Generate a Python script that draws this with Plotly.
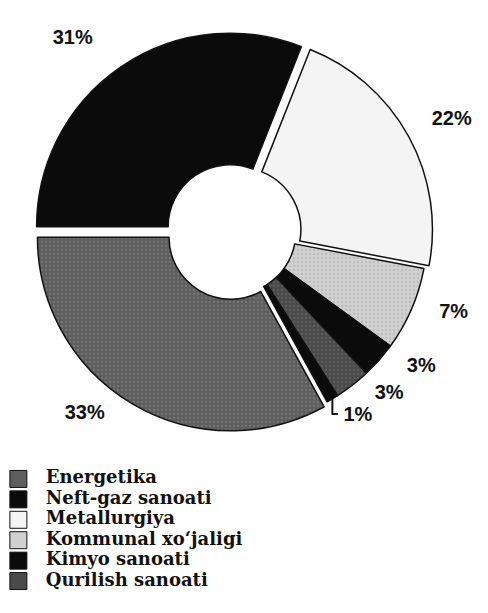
import plotly.graph_objects as go

# Data (clockwise from 9 o'clock)
slice_labels = ["Neft-gaz sanoati", "Metallurgiya", "Kommunal xo‘jaligi",
                "Kimyo sanoati", "Qurilish sanoati", "Boshqa", "Energetika"]
slice_values = [31, 22, 7, 3, 3, 1, 33]

legend_labels = ["Energetika", "Neft-gaz sanoati", "Metallurgiya",
                 "Kommunal xo‘jaligi", "Kimyo sanoati", "Qurilish sanoati"]

# Styles
color_map = {
    "Neft-gaz sanoati": "#0b0b0b",
    "Metallurgiya": "#f4f4f4",
    "Kommunal xo‘jaligi": "#d0d0d0",
    "Kimyo sanoati": "#0b0b0b",
    "Qurilish sanoati": "#4a4a4a",
    "Boshqa": "#0b0b0b",
    "Energetika": "#5e5e5e",
}
pattern_fg = {
    "Energetika": "#8c8c8c",
    "Kommunal xo‘jaligi": "#a8a8a8",
    "Qurilish sanoati": "#707070",
}
pull_map = {
    "Neft-gaz sanoati": 0.035,
    "Metallurgiya": 0.03,
    "Energetika": 0.03,
}
# outside-label padding: (nbsp before, nbsp after, empty lines below)
label_pad = {
    "Neft-gaz sanoati": (0, 3, 1),
    "Metallurgiya": (2, 0, 1),
    "Kommunal xo‘jaligi": (4, 0, 0),
    "Kimyo sanoati": (4, 0, 0),
    "Qurilish sanoati": (3, 0, 0),
    "Boshqa": (1, 0, 0),
    "Energetika": (0, 4, 0),
}
NB = "\u00a0"


def label_template(lab):
    pre, post, below = label_pad.get(lab, (0, 0, 0))
    return NB * pre + "%{value}%" + NB * post + ("<br>" + NB) * below


fig = go.Figure()

fig.add_trace(go.Pie(
    labels=slice_labels,
    values=slice_values,
    sort=False,
    direction="clockwise",
    rotation=270,
    hole=0.32,
    pull=[pull_map.get(l, 0) for l in slice_labels],
    marker=dict(
        colors=[color_map[l] for l in slice_labels],
        line=dict(color="#111111", width=1.5),
        pattern=dict(
            shape=["." if l in pattern_fg else "" for l in slice_labels],
            fgcolor=[pattern_fg.get(l, "#000000") for l in slice_labels],
            size=4, solidity=0.25, fillmode="overlay",
        ),
    ),
    texttemplate=[label_template(l) for l in slice_labels],
    textposition="outside",
    textfont=dict(family="Liberation Sans", size=20, color="#111111", weight="bold"),
    showlegend=False,
    hoverinfo="label+value",
    domain=dict(x=[0.05, 0.93], y=[0.32, 1.0]),
))

# Legend drawn as a small scatter block on hidden axes
idx = list(range(len(legend_labels)))
fig.add_trace(go.Scatter(
    x=[0] * len(idx), y=idx, mode="markers",
    marker=dict(symbol="square", size=17,
                color=[color_map[l] for l in legend_labels],
                line=dict(color="#111111", width=1)),
    hoverinfo="skip", showlegend=False, cliponaxis=False,
    xaxis="x", yaxis="y",
))
fig.add_trace(go.Scatter(
    x=[1.45] * len(idx), y=idx, mode="text",
    text=legend_labels, textposition="middle right",
    textfont=dict(family="DejaVu Serif", size=18, color="#111111", weight="bold"),
    hoverinfo="skip", showlegend=False, cliponaxis=False,
    xaxis="x", yaxis="y",
))

fig.update_layout(
    width=488, height=613,
    margin=dict(l=0, r=0, t=0, b=0),
    paper_bgcolor="white",
    plot_bgcolor="white",
    showlegend=False,
    xaxis=dict(domain=[0, 0.6], range=[-0.55, 14.09], visible=False, fixedrange=True),
    yaxis=dict(domain=[0.047, 0.262], range=[5.6, -0.6], visible=False, fixedrange=True),
)

fig.write_html("out.html")
